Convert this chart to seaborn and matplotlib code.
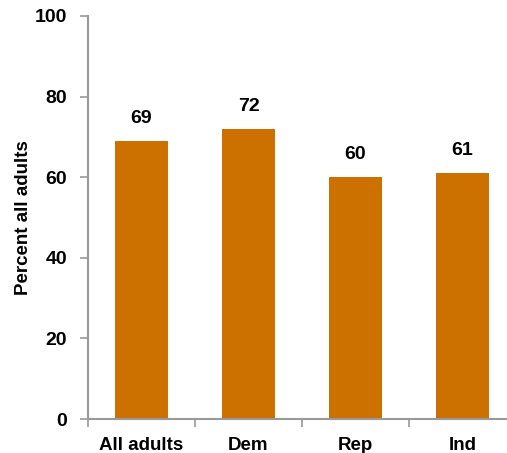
import matplotlib
matplotlib.use("Agg")
import matplotlib.pyplot as plt
import seaborn as sns
import pandas as pd
from matplotlib.ticker import FixedLocator

categories = ["All adults", "Dem", "Rep", "Ind"]
values = [69, 72, 60, 61]
yticks = [0, 20, 40, 60, 80, 100]

sns.set_style("white")
plt.rcParams['font.family'] = ['Liberation Sans', 'DejaVu Sans']
plt.rcParams['text.color'] = 'black'
plt.rcParams['axes.labelcolor'] = 'black'
plt.rcParams['xtick.color'] = 'black'
plt.rcParams['ytick.color'] = 'black'

df = pd.DataFrame({"cat": categories, "val": values})

fig = plt.figure(figsize=(5.07, 4.53), dpi=100)
ax = fig.add_axes([88/507, 1-419/453, (516-88)/507, (419-16)/453])
sns.barplot(data=df, x="cat", y="val", color="#CC7000", saturation=1, width=0.5,
            linewidth=0, ax=ax)

ax.set_xlim(-0.5, len(categories) - 0.5)
ax.set_ylim(0, 100)
ax.set_yticks(yticks)
ax.set_yticklabels([str(t) for t in yticks], fontsize=14, fontweight="bold")
ax.set_xticks(range(len(categories)))
ax.set_xticklabels(categories, fontsize=13.5, fontweight="bold")
ax.xaxis.set_minor_locator(FixedLocator([i - 0.5 for i in range(len(categories) + 1)]))
ax.tick_params(axis="x", which="major", length=0, pad=13)
ax.tick_params(axis="x", which="minor", length=6, color="#999999", width=1.2, direction="out", bottom=True)
ax.tick_params(axis="y", length=6, color="#999999", width=1.2, direction="out", left=True, pad=9)
ax.set_xlabel("")
ax.set_ylabel("Percent all adults", fontsize=13.5, fontweight="bold", labelpad=2)

for s in ["top", "right"]:
    ax.spines[s].set_visible(False)
for s in ["left", "bottom"]:
    ax.spines[s].set_color("#999999")
    ax.spines[s].set_linewidth(1.5)

for p, v in zip(ax.patches, values):
    ax.annotate(str(v), (p.get_x() + p.get_width() / 2, p.get_height()),
                xytext=(0, 10), textcoords="offset points", ha="center", va="bottom",
                fontsize=14, fontweight="bold")

fig.savefig("out.png", dpi=100)
